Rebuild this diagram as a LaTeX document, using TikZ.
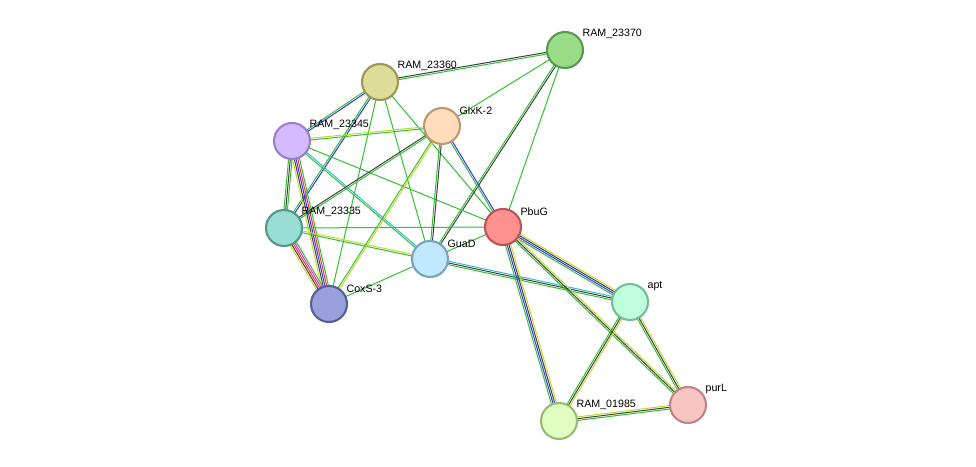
\documentclass[tikz,border=0pt]{standalone}
\usepackage{fontspec}
\setmainfont{Liberation Sans}
\usetikzlibrary{calc}
\pgfdeclarelayer{bg}\pgfsetlayers{bg,main}
\definecolor{eg}{HTML}{33C033}\definecolor{ek}{HTML}{404040}\definecolor{eb}{HTML}{3333FF}
\definecolor{ey}{HTML}{C4D830}\definecolor{ec}{HTML}{33B8DD}\definecolor{er}{HTML}{FF3030}
\definecolor{em}{HTML}{DD33DD}
\tikzset{prot/.style={circle,minimum size=27pt,inner sep=0pt,line width=1.6pt},
 lab/.style={font=\fontsize{8}{9}\selectfont,anchor=south west,inner sep=1pt}}
\newcommand{\pnode}[6]{\definecolor{#1f}{HTML}{#4}\definecolor{#1d}{HTML}{#5}%
 \node[prot,fill=#1f,draw=#1d] (#1) at (#2,#3) {};
 \node[lab] (#1-l) at ($(#1)+(12pt,7pt)$) {#6};}
\newcommand{\pedge}[3]{%
 \foreach \c [count=\i] in {#3} {\global\let\ncount\i}%
 \foreach \c [count=\i] in {#3} {%
  \pgfmathsetmacro{\off}{(\i-(\ncount+1)/2)*1.3}%
  \draw[\c,line width=0.75pt] ($(#1)!\off pt!90:(#2)$) -- ($(#2)!\off pt!-90:(#1)$);}}
\begin{document}
\begin{tikzpicture}[x=0.75pt,y=-0.75pt]
\useasboundingbox (0,0) rectangle (976,467);
\pnode{r70}{565}{50}{99DD88}{5A9A50}{RAM\_23370}
\pnode{r60}{380}{82}{DDDD99}{999955}{RAM\_23360}
\pnode{glx}{442}{126}{FFDDBB}{BB9977}{GlxK-2}
\pnode{r45}{292}{141}{D4BBFF}{9980CC}{RAM\_23345}
\pnode{r35}{284}{228}{99DDD4}{559988}{RAM\_23335}
\pnode{pbu}{503}{227}{FF9090}{BB5555}{PbuG}
\pnode{gua}{430}{259}{C0E8FF}{77A5BB}{GuaD}
\pnode{cox}{329}{304}{99A0DD}{555F99}{CoxS-3}
\pnode{apt}{630}{302}{C0FFDD}{77BB99}{apt}
\pnode{pur}{688}{405}{F8C4C4}{BB8888}{purL}
\pnode{r85}{559}{421}{E0FFC0}{99BB77}{RAM\_01985}
\begin{pgfonlayer}{bg}
\pedge{r60}{r70}{eg,ek}
\pedge{r60}{r45}{eg,eb}
\pedge{r60}{r35}{eg,eb}
\pedge{r60}{cox}{eg}
\pedge{r60}{gua}{eg}
\pedge{r60}{pbu}{eg}
\pedge{r70}{glx}{eg}
\pedge{r70}{gua}{eg,ek}
\pedge{r70}{pbu}{eg}
\pedge{r45}{glx}{eg,ey}
\pedge{r45}{pbu}{eg}
\pedge{r45}{gua}{eg,ec}
\pedge{r45}{r35}{eg,ek,eg}
\pedge{r45}{cox}{ey,ek,eb,er,eg}
\pedge{r35}{glx}{eg,ek}
\pedge{r35}{pbu}{eg}
\pedge{r35}{gua}{eg,ey}
\pedge{r35}{cox}{ey,ek,er,em,eg}
\pedge{glx}{cox}{eg,ey}
\pedge{glx}{gua}{eg,ek}
\pedge{glx}{pbu}{eg,eb}
\pedge{gua}{cox}{eg}
\pedge{gua}{pbu}{eg}
\pedge{gua}{apt}{eg,ek,ec}
\pedge{pbu}{apt}{eg,eb,ek,ey}
\pedge{pbu}{pur}{eg,ek,ey}
\pedge{pbu}{r85}{eg,eb,ek,ey}
\pedge{apt}{pur}{eg,ek,ey}
\pedge{apt}{r85}{eg,ek,ey}
\pedge{r85}{pur}{eg,ek,ey}
\end{pgfonlayer}
\end{tikzpicture}
\end{document}
